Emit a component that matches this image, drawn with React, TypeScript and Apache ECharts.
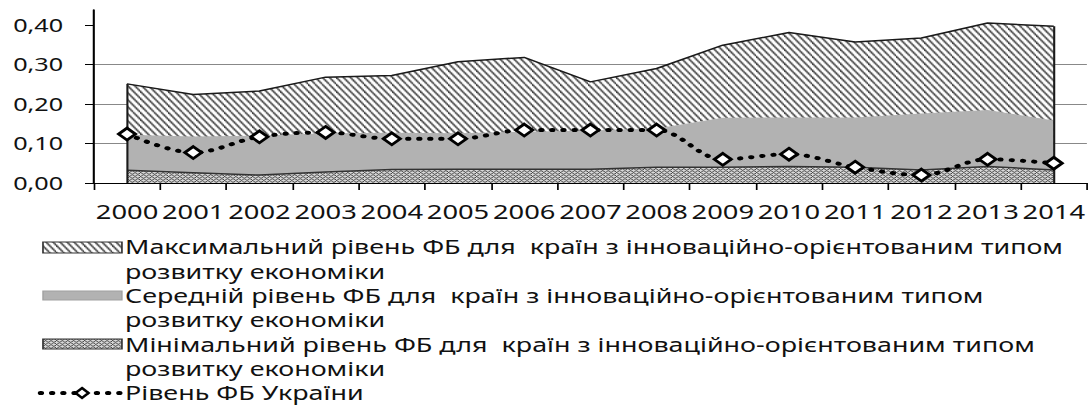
import React, { useEffect, useRef } from "react";
import * as echarts from "echarts";

// ---- data ----
const years = ["2000", "2001", "2002", "2003", "2004", "2005", "2006", "2007", "2008", "2009", "2010", "2011", "2012", "2013", "2014"];
const maxLevel = [0.251, 0.224, 0.233, 0.268, 0.272, 0.307, 0.318, 0.256, 0.29, 0.349, 0.381, 0.357, 0.367, 0.405, 0.397];
const meanLevel = [0.122, 0.118, 0.12, 0.126, 0.127, 0.126, 0.13, 0.133, 0.138, 0.165, 0.166, 0.166, 0.176, 0.185, 0.158];
const minLevel = [0.032, 0.026, 0.02, 0.028, 0.034, 0.035, 0.035, 0.035, 0.04, 0.04, 0.042, 0.04, 0.033, 0.042, 0.033];
const ukraineLevel = [0.124, 0.077, 0.117, 0.128, 0.112, 0.112, 0.134, 0.134, 0.134, 0.06, 0.073, 0.04, 0.02, 0.06, 0.05];
const yTickValues = [0, 0.1, 0.2, 0.3, 0.4];
const yTickLabels = ["0,00", "0,10", "0,20", "0,30", "0,40"];
const yAxisTop = 0.438;
const legendLines = [
  "Максимальний рівень ФБ для  країн з інноваційно-орієнтованим типом",
  "розвитку економіки",
  "Середній рівень ФБ для  країн з інноваційно-орієнтованим типом",
  "розвитку економіки",
  "Мінімальний рівень ФБ для  країн з інноваційно-орієнтованим типом",
  "розвитку економіки",
  "Рівень ФБ України",
];
const seriesNames = [
  legendLines[0] + " " + legendLines[1],
  legendLines[2] + " " + legendLines[3],
  legendLines[4] + " " + legendLines[5],
  legendLines[6],
];

// ---- layout (local, un-stretched coordinates) ----
const S = 1.4;
const W = 778;
const H = 408;
const FONT = "Noto Sans";

function makeHatch() {
  const c = document.createElement("canvas");
  c.width = 20;
  c.height = 28;
  const ctx = c.getContext("2d")!;
  ctx.fillStyle = "#ffffff";
  ctx.fillRect(0, 0, 20, 28);
  ctx.strokeStyle = "#4a4a4a";
  ctx.lineWidth = 1.4;
  for (let x0 = -30; x0 <= 30; x0 += 5) {
    ctx.beginPath();
    ctx.moveTo(x0, 0);
    ctx.lineTo(x0 + 20, 28);
    ctx.stroke();
  }
  return { image: c, repeat: "repeat", imageWidth: 20, imageHeight: 28 };
}

function makeCross() {
  const c = document.createElement("canvas");
  c.width = 4;
  c.height = 4;
  const ctx = c.getContext("2d")!;
  ctx.fillStyle = "#d8d8d8";
  ctx.fillRect(0, 0, 4, 4);
  ctx.fillStyle = "#484848";
  for (let x = 0; x < 4; x++) {
    for (let y = 0; y < 4; y++) {
      if ((x + y) % 4 === 0 || (x - y + 4) % 4 === 0) ctx.fillRect(x, y, 1, 1);
    }
  }
  return { image: c, repeat: "repeat", imageWidth: 4, imageHeight: 4 };
}

export default function App() {
  const ref = useRef<HTMLDivElement>(null);
  useEffect(() => {
    const chart = echarts.init(ref.current!, null, { renderer: "svg", width: W, height: H });
    const hatch = makeHatch();
    const cross = makeCross();
    const textStyle = { fontFamily: FONT, fontSize: 19.2, fill: "#111" };
    const lineYs = [247, 271.3, 295.6, 319.9, 344.2, 368.5, 392.8];
    const textX = 89.3;
    const graphics: any[] = legendLines.map((t, i) => ({
      type: "text",
      x: textX,
      y: lineYs[i],
      silent: true,
      style: { ...textStyle, text: t, verticalAlign: "middle", align: "left" },
    }));
    graphics.push(
      { type: "rect", silent: true, shape: { x: 30.7, y: 242, width: 56.4, height: 11 }, style: { fill: hatch, stroke: "#333", lineWidth: 1.2 } },
      { type: "rect", silent: true, shape: { x: 30.7, y: 291, width: 56.4, height: 9 }, style: { fill: "#b2b2b2", stroke: "#a0a0a0", lineWidth: 1 } },
      { type: "rect", silent: true, shape: { x: 30.7, y: 339, width: 56.4, height: 10 }, style: { fill: cross, stroke: "#333", lineWidth: 1.2 } },
      { type: "line", silent: true, shape: { x1: 29, y1: 393, x2: 86, y2: 393 }, style: { stroke: "#000", lineWidth: 4, lineDash: [0.5, 7.5], lineCap: "round" } },
      { type: "polygon", silent: true, shape: { points: [[58.6, 388], [63.2, 393], [58.6, 398], [54, 393]] }, style: { fill: "#fff", stroke: "#000", lineWidth: 2.2 } }
    );

    const option: any = {
      animation: false,
      grid: { left: 67.1, right: 1.6, top: 10, bottom: 225, containLabel: false },
      xAxis: {
        type: "category",
        data: years,
        boundaryGap: true,
        axisLine: { lineStyle: { color: "#000", width: 1 } },
        axisTick: { show: true, length: 7, interval: 0, lineStyle: { color: "#000", width: 1.2 } },
        axisLabel: { interval: 0, margin: 19, fontSize: 19.5, fontFamily: FONT, color: "#111" },
        splitLine: { show: false },
      },
      yAxis: {
        type: "value",
        min: 0,
        max: yAxisTop,
        interval: 0.1,
        axisLine: { show: true, lineStyle: { color: "#000", width: 1.5 } },
        axisTick: { show: true, length: 6.4, customValues: yTickValues, lineStyle: { color: "#000", width: 1 } },
        axisLabel: {
          customValues: yTickValues,
          formatter: (v: number) => yTickLabels[Math.round(v * 10)],
          margin: 22,
          fontSize: 18,
          fontFamily: FONT,
          color: "#111",
        },
        splitLine: { show: true, showMaxLine: false, lineStyle: { color: "#888", width: 1 } },
      },
      series: [
        {
          name: seriesNames[0],
          type: "line",
          data: maxLevel,
          symbol: "none",
          emphasis: { disabled: true },
          lineStyle: { color: "#1a1a1a", width: 1.5 },
          itemStyle: { color: "#1a1a1a" },
          areaStyle: { color: hatch, opacity: 1 },
          markLine: {
            silent: true,
            symbol: ["none", "none"],
            label: { show: false },
            lineStyle: { color: "#1a1a1a", width: 1.5, type: "solid" },
            emphasis: { disabled: true },
            data: [
              [{ coord: [years[0], 0] }, { coord: [years[0], maxLevel[0]] }],
              [{ coord: [years[years.length - 1], 0] }, { coord: [years[years.length - 1], maxLevel[maxLevel.length - 1]] }],
            ],
          },
        },
        {
          name: seriesNames[1],
          type: "line",
          data: meanLevel,
          symbol: "none",
          emphasis: { disabled: true },
          lineStyle: { color: "#b2b2b2", width: 0 },
          itemStyle: { color: "#b2b2b2" },
          areaStyle: { color: "#b2b2b2", opacity: 1 },
        },
        {
          name: seriesNames[2],
          type: "line",
          data: minLevel,
          symbol: "none",
          emphasis: { disabled: true },
          lineStyle: { color: "#333", width: 1.5 },
          itemStyle: { color: "#333" },
          areaStyle: { color: cross, opacity: 1 },
        },
        {
          name: seriesNames[3],
          type: "line",
          data: ukraineLevel,
          smooth: 0.35,
          symbol: "diamond",
          symbolSize: 12,
          showSymbol: true,
          emphasis: { disabled: true },
          lineStyle: { color: "#000", width: 4, type: [0.5, 7.5], cap: "round" },
          itemStyle: { color: "#fff", borderColor: "#000", borderWidth: 2.5 },
          z: 5,
        },
      ],
      graphic: graphics,
    };
    chart.setOption(option);
    return () => chart.dispose();
  }, []);
  return (
    <div
      ref={ref}
      style={{
        position: "absolute",
        left: 0,
        top: 0,
        width: W,
        height: H,
        transform: `scaleX(${S})`,
        transformOrigin: "0 0",
      }}
    />
  );
}
